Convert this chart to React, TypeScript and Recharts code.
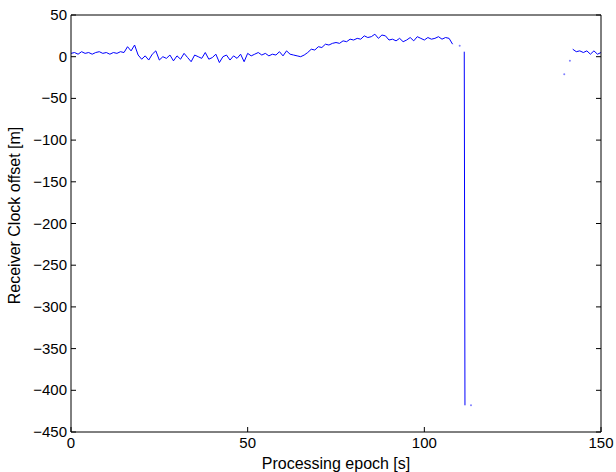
import { ComposedChart, Line, Scatter, XAxis, YAxis } from 'recharts';

// receiver clock offset [m], one value per second from epoch 0 to 108
const offsets = [
  4, 5, 3, 6, 4, 5, 3, 5, 6, 4, 5, 3, 5, 4, 6, 5,
  12, 7, 14,
  2, -3, 1, -4, 3, 7, -4, 0, -2, 2, -5,
  1, -3, 4, -1, -6, 2, 0, -2, 5, -3, -1, 3, -7, 0, 2, -4, 1, -2, 3, -6,
  4, 1, 3, 5, 2, 4, 1, 3, 2, 6, 1, 7, 3, 2,
  1, 0, 2,
  5, 9, 8, 12, 11, 15, 14, 16, 17, 16, 19, 18, 21, 20,
  22, 21, 25, 23, 24, 27, 22, 26, 25, 20,
  21, 19, 22, 18, 20, 23, 19, 24, 22, 20, 23, 21, 22, 24, 21, 23, 22,
  15
];

// the jump down after the outage
const jumpEpochs = [111.3, 111.5];
const jumpOffsets = [6, -418];

// recovered solution at the end
const tailEpochs = [142, 143, 144, 145, 146, 147, 148, 149, 150];
const tailOffsets = [9, 6, 7, 5, 7, 3, 7, 3, 5];

// single isolated fixes
const dotEpochs = [110, 113.2, 139.6, 141.2];
const dotOffsets = [13, -418, -21, -5];

const xTicks = [0, 50, 100, 150];
const yTicks = [50, 0, -50, -100, -150, -200, -250, -300, -350, -400, -450];

const mainData = offsets.map((v, i) => ({ t: i, v }));
const jumpData = jumpEpochs.map((t, i) => ({ t, v: jumpOffsets[i] }));
const tailData = tailEpochs.map((t, i) => ({ t, v: tailOffsets[i] }));
const dotData = dotEpochs.map((t, i) => ({ t, v: dotOffsets[i] }));

const FONT = '"Liberation Sans", Arial, Helvetica, sans-serif';
const TICK_LEN = 5;
const TICK_FONT = 15;
const LABEL_FONT = 16;

const fmt = (v: number) => (v < 0 ? '\u2212' + Math.abs(v) : String(v));

const BottomTick = ({ x, y, payload }: any) => (
  <g>
    <line x1={x} x2={x} y1={y} y2={y - TICK_LEN} stroke="#000" />
    <text x={x} y={y + 16} textAnchor="middle" fontSize={TICK_FONT} fontFamily={FONT} fill="#000">
      {fmt(payload.value)}
    </text>
  </g>
);

const TopTick = ({ x, y }: any) => (
  <line x1={x} x2={x} y1={y} y2={y + TICK_LEN} stroke="#000" />
);

const LeftTick = ({ x, y, payload }: any) => (
  <g>
    <line x1={x} x2={x + TICK_LEN} y1={y} y2={y} stroke="#000" />
    <text x={x - 4} y={y + 5} textAnchor="end" fontSize={TICK_FONT} fontFamily={FONT} fill="#000">
      {fmt(payload.value)}
    </text>
  </g>
);

const RightTick = ({ x, y }: any) => (
  <line x1={x} x2={x - TICK_LEN} y1={y} y2={y} stroke="#000" />
);

const XLabel = ({ viewBox }: any) => (
  <text
    x={viewBox.x + viewBox.width / 2}
    y={viewBox.y + viewBox.height - 3}
    textAnchor="middle"
    fontSize={LABEL_FONT}
    fontFamily={FONT}
    fill="#000"
  >
    Processing epoch [s]
  </text>
);

const YLabel = ({ viewBox }: any) => (
  <text
    transform={`translate(${viewBox.x + 20},${viewBox.y + viewBox.height / 2 - 8}) rotate(-90)`}
    textAnchor="middle"
    fontSize={LABEL_FONT}
    fontFamily={FONT}
    fill="#000"
  >
    Receiver Clock offset [m]
  </text>
);

const Dot = ({ cx, cy }: any) => <circle cx={cx} cy={cy} r={1} fill="#7f7fff" />;

export default function App() {
  return (
    <div style={{ position: 'absolute', left: 0, top: 0, width: 616, height: 472, background: '#fff' }}>
      <ComposedChart width={616} height={472} margin={{ top: 14, right: 14, bottom: 0, left: 0 }}>
        <XAxis
          xAxisId="bottom"
          dataKey="t"
          type="number"
          domain={[0, 150]}
          ticks={xTicks}
          height={40}
          tickSize={0}
          tickMargin={0}
          tickLine={false}
          tick={<BottomTick />}
          axisLine={{ stroke: '#000' }}
          label={<XLabel />}
          allowDataOverflow
        />
        <XAxis
          xAxisId="top"
          orientation="top"
          type="number"
          domain={[0, 150]}
          ticks={xTicks}
          height={1}
          tickSize={0}
          tickMargin={0}
          tickLine={false}
          tick={<TopTick />}
          axisLine={{ stroke: '#000' }}
          allowDataOverflow
        />
        <YAxis
          yAxisId="left"
          type="number"
          domain={[-450, 50]}
          ticks={yTicks}
          width={71}
          tickSize={0}
          tickMargin={0}
          tickLine={false}
          tick={<LeftTick />}
          axisLine={{ stroke: '#000' }}
          label={<YLabel />}
          allowDataOverflow
        />
        <YAxis
          yAxisId="right"
          orientation="right"
          type="number"
          domain={[-450, 50]}
          ticks={yTicks}
          width={1}
          tickSize={0}
          tickMargin={0}
          tickLine={false}
          tick={<RightTick />}
          axisLine={{ stroke: '#000' }}
          allowDataOverflow
        />
        <Line
          xAxisId="bottom"
          yAxisId="left"
          data={mainData}
          dataKey="v"
          stroke="#0000ff"
          strokeWidth={1}
          dot={false}
          type="linear"
          isAnimationActive={false}
        />
        <Line
          xAxisId="bottom"
          yAxisId="left"
          data={jumpData}
          dataKey="v"
          stroke="#0000ff"
          strokeWidth={1}
          dot={false}
          type="linear"
          isAnimationActive={false}
        />
        <Line
          xAxisId="bottom"
          yAxisId="left"
          data={tailData}
          dataKey="v"
          stroke="#0000ff"
          strokeWidth={1}
          dot={false}
          type="linear"
          isAnimationActive={false}
        />
        <Scatter
          xAxisId="bottom"
          yAxisId="left"
          data={dotData}
          dataKey="v"
          shape={<Dot />}
          isAnimationActive={false}
        />
      </ComposedChart>
    </div>
  );
}
